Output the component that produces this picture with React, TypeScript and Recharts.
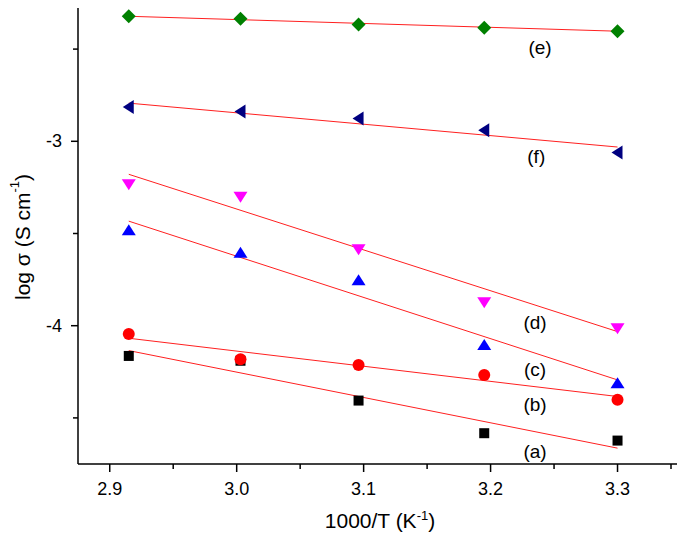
import { ComposedChart, Scatter, XAxis, YAxis, ReferenceLine } from "recharts";

// 1000/T positions of the measured points
const invT = [2.915, 3.003, 3.096, 3.195, 3.3];

// log sigma values
const logA = [-4.164, -4.19, -4.406, -4.583, -4.623];
const logB = [-4.045, -4.182, -4.213, -4.267, -4.402];
const logC = [-3.482, -3.605, -3.753, -4.105, -4.312];
const logD = [-3.233, -3.301, -3.585, -3.873, -4.014];
const logE = [-2.322, -2.336, -2.367, -2.384, -2.403];
const logF = [-2.814, -2.838, -2.877, -2.94, -3.061];

// linear fit end points (at first and last 1000/T)
const fitX = [2.915, 3.3];
const fitA = [-4.135, -4.664];
const fitB = [-4.068, -4.384];
const fitC = [-3.433, -4.294];
const fitD = [-3.179, -4.032];
const fitE = [-2.322, -2.403];
const fitF = [-2.793, -3.031];

// curve labels
const labelNames = ["(a)", "(b)", "(c)", "(d)", "(e)", "(f)"];
const labelX = [3.235, 3.235, 3.235, 3.235, 3.239, 3.236];
const labelY = [-4.682, -4.429, -4.24, -3.985, -2.489, -3.085];

const xTicks = [2.9, 2.95, 3.0, 3.05, 3.1, 3.15, 3.2, 3.25, 3.3, 3.35];
const yTicks = [-4.5, -4, -3.5, -3, -2.5];

const FONT = "Arial, 'Liberation Sans', sans-serif";

const toPts = (xs: number[], ys: number[]) => xs.map((x, i) => ({ x, y: ys[i] }));

const isMajor = (v: number) => Math.abs(Math.round(v * 100)) % 10 === 0;

function XTick({ x, y, payload }: any) {
  const major = isMajor(payload.value);
  return (
    <g>
      <line x1={x} x2={x} y1={y} y2={y + (major ? 8 : 5)} stroke="#000" strokeWidth={1.5} />
      {major && (
        <text x={x} y={y + 31} textAnchor="middle" fontSize={18} fontFamily={FONT} fill="#000">
          {payload.value.toFixed(1)}
        </text>
      )}
    </g>
  );
}

function YTick({ x, y, payload }: any) {
  const major = Math.abs(payload.value - Math.round(payload.value)) < 1e-6;
  return (
    <g>
      <line x1={x - (major ? 7 : 5)} x2={x} y1={y} y2={y} stroke="#000" strokeWidth={1.5} />
      {major && (
        <text x={x - 16} y={y + 6} textAnchor="end" fontSize={18} fontFamily={FONT} fill="#000">
          {payload.value}
        </text>
      )}
    </g>
  );
}

const Square = ({ cx, cy }: any) => <rect x={cx - 5} y={cy - 5} width={10} height={10} fill="#000" />;
const Circle = ({ cx, cy }: any) => <circle cx={cx} cy={cy} r={6} fill="#ff0000" />;
const UpTri = ({ cx, cy }: any) => (
  <polygon points={`${cx},${cy - 6} ${cx + 7},${cy + 5} ${cx - 7},${cy + 5}`} fill="#0000ff" />
);
const DownTri = ({ cx, cy }: any) => (
  <polygon points={`${cx - 7},${cy - 5} ${cx + 7},${cy - 5} ${cx},${cy + 6}`} fill="#ff00ff" />
);
const Diamond = ({ cx, cy }: any) => (
  <polygon points={`${cx},${cy - 7} ${cx + 7},${cy} ${cx},${cy + 7} ${cx - 7},${cy}`} fill="#008000" />
);
const LeftTri = ({ cx, cy }: any) => (
  <polygon points={`${cx - 6},${cy} ${cx + 5},${cy - 7} ${cx + 5},${cy + 7}`} fill="#000080" />
);
const NoDot = () => <g />;
const LabelText = ({ cx, cy, payload }: any) => (
  <text x={cx} y={cy} textAnchor="middle" dominantBaseline="central" fontSize={19} fontFamily={FONT} fill="#000">
    {payload.name}
  </text>
);

function YTitle() {
  const cx = 22;
  const cy = 237;
  return (
    <text
      x={cx}
      y={cy}
      transform={`rotate(-90, ${cx}, ${cy})`}
      textAnchor="middle"
      dominantBaseline="central"
      fontSize={21}
      fontFamily={FONT}
      fill="#000"
    >
      log σ (S cm<tspan dy={-8} fontSize={13}>-1</tspan>
      <tspan dy={8}>)</tspan>
    </text>
  );
}

function XTitle() {
  return (
    <text x={380} y={528} textAnchor="middle" fontSize={21} fontFamily={FONT} fill="#000">
      1000/T (K<tspan dy={-8} fontSize={13}>-1</tspan>
      <tspan dy={8}>)</tspan>
    </text>
  );
}

const fits = [fitA, fitB, fitC, fitD, fitE, fitF];
const series = [
  { data: logA, shape: Square },
  { data: logB, shape: Circle },
  { data: logC, shape: UpTri },
  { data: logD, shape: DownTri },
  { data: logE, shape: Diamond },
  { data: logF, shape: LeftTri },
];
const labelPts = labelNames.map((name, i) => ({ x: labelX[i], y: labelY[i], name }));

export default function App() {
  return (
    <div style={{ margin: -8, width: 685, height: 542, background: "#fff" }}>
      <ComposedChart width={685} height={542} margin={{ top: 3, right: 4, bottom: 0, left: 0 }}>
        <XAxis
          type="number"
          dataKey="x"
          domain={[2.875, 3.35]}
          ticks={xTicks}
          allowDataOverflow
          height={78}
          tickLine={false}
          tickSize={0}
          tickMargin={0}
          tick={<XTick />}
          axisLine={{ stroke: "#000", strokeWidth: 1.5 }}
          label={<XTitle />}
        />
        <YAxis
          type="number"
          dataKey="y"
          domain={[-4.75, -2.25]}
          ticks={yTicks}
          allowDataOverflow
          width={78}
          tickLine={false}
          tickSize={0}
          tickMargin={0}
          tick={<YTick />}
          axisLine={{ stroke: "#000", strokeWidth: 1.5 }}
          label={<YTitle />}
        />
        <ReferenceLine y={-2.25} stroke="#666" strokeWidth={1.5} />
        {fits.map((f, i) => (
          <Scatter
            key={`fit${i}`}
            data={toPts(fitX, f)}
            line={{ stroke: "#ff2020", strokeWidth: 1 }}
            shape={NoDot}
            isAnimationActive={false}
          />
        ))}
        {series.map((s, i) => (
          <Scatter key={`s${i}`} data={toPts(invT, s.data)} shape={s.shape} isAnimationActive={false} />
        ))}
        <Scatter data={labelPts} shape={LabelText} isAnimationActive={false} />
      </ComposedChart>
    </div>
  );
}
